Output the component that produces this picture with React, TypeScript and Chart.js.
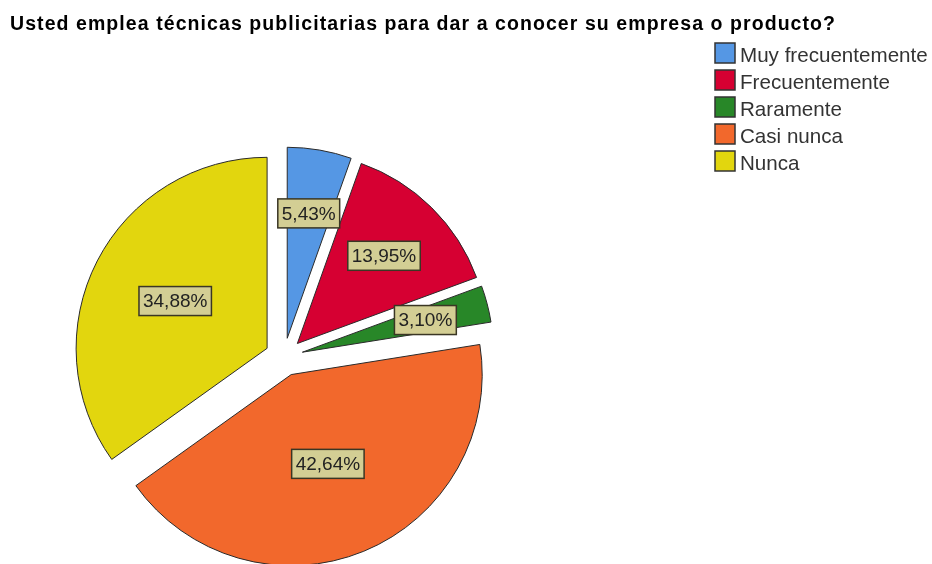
import React, { useEffect, useRef } from "react";
import { Chart, registerables, ArcElement } from "chart.js";

Chart.register(...registerables);

const TITLE = "Usted emplea técnicas publicitarias para dar a conocer su empresa o producto?";
const categories = ["Muy frecuentemente", "Frecuentemente", "Raramente", "Casi nunca", "Nunca"];
const percentages = [5.43, 13.95, 3.1, 42.64, 34.88];
const colors = ["#5597E4", "#D60032", "#288728", "#F2682C", "#E2D60E"];

const EXPLODE = 19;
const FONT = '"Liberation Sans", Arial, sans-serif';

const explodePlugin = {
  id: "explodeSlices",
  beforeDatasetsDraw(chart: any) {
    const meta = chart.getDatasetMeta(0);
    meta.data.forEach((el: any) => {
      if (el.__exploded) return;
      el.__exploded = true;
      el.draw = function (ctx: CanvasRenderingContext2D, area: any) {
        const mid = (this.startAngle + this.endAngle) / 2;
        ctx.save();
        ctx.translate(Math.cos(mid) * EXPLODE, Math.sin(mid) * EXPLODE);
        ArcElement.prototype.draw.call(this, ctx, area);
        ctx.restore();
      };
    });
  },
};

const labelPlugin = {
  id: "sliceLabels",
  afterDatasetsDraw(chart: any) {
    const ctx = chart.ctx as CanvasRenderingContext2D;
    const meta = chart.getDatasetMeta(0);
    const data = chart.data.datasets[0].data as number[];
    ctx.save();
    ctx.font = `19px ${FONT}`;
    ctx.textAlign = "center";
    ctx.textBaseline = "middle";
    meta.data.forEach((el: any, i: number) => {
      const { x, y, startAngle, endAngle, outerRadius } = el.getProps(
        ["x", "y", "startAngle", "endAngle", "outerRadius"],
        true
      );
      const mid = (startAngle + endAngle) / 2;
      const half = (endAngle - startAngle) / 2;
      const dist = ((2 / 3) * outerRadius * Math.sin(half)) / half + EXPLODE + (half > 1.2 ? 4 : 0);
      const cx = x + Math.cos(mid) * dist;
      const cy = y + Math.sin(mid) * dist;
      const text = data[i].toFixed(2).replace(".", ",") + "%";
      const w = ctx.measureText(text).width + 8;
      const h = 29;
      ctx.fillStyle = "#D3CE94";
      ctx.fillRect(cx - w / 2, cy - h / 2, w, h);
      ctx.strokeStyle = "#3A3624";
      ctx.lineWidth = 1.5;
      ctx.strokeRect(cx - w / 2, cy - h / 2, w, h);
      ctx.fillStyle = "#222";
      ctx.fillText(text, cx, cy + 1);
    });
    ctx.restore();
  },
};

const decorPlugin = {
  id: "decor",
  afterDraw(chart: any) {
    const ctx = chart.ctx as CanvasRenderingContext2D;
    ctx.save();
    ctx.fillStyle = "#000";
    ctx.font = `bold 19.5px ${FONT}`;
    ctx.textAlign = "left";
    ctx.textBaseline = "alphabetic";
    const natural = ctx.measureText(TITLE).width;
    const ls = Math.max(0, (825 - natural) / (TITLE.length - 1));
    (ctx as any).letterSpacing = `${ls}px`;
    ctx.fillText(TITLE, 10, 30);
    (ctx as any).letterSpacing = "0px";

    const labels = chart.data.labels as string[];
    const bg = chart.data.datasets[0].backgroundColor as string[];
    ctx.font = `20.6px ${FONT}`;
    labels.forEach((lab, i) => {
      const top = 43 + i * 27;
      ctx.fillStyle = bg[i];
      ctx.fillRect(715, top, 20, 20);
      ctx.strokeStyle = "#333";
      ctx.lineWidth = 1.5;
      ctx.strokeRect(715, top, 20, 20);
      ctx.fillStyle = "#333";
      ctx.fillText(lab, 740, top + 19);
    });
    ctx.restore();
  },
};

export default function App() {
  const ref = useRef<HTMLCanvasElement | null>(null);
  useEffect(() => {
    if (!ref.current) return;
    const chart = new Chart(ref.current, {
      type: "pie",
      data: {
        labels: categories,
        datasets: [
          {
            data: percentages,
            backgroundColor: colors,
            borderColor: "#2a2a2a",
            borderWidth: 1,
            clip: false as any,
          },
        ],
      },
      options: {
        responsive: false,
        animation: false,
        radius: 191,
        layout: { padding: { left: 0, right: 364, top: 150, bottom: 0 } },
        plugins: {
          legend: { display: false },
          title: { display: false },
          tooltip: { enabled: false },
        },
      } as any,
      plugins: [explodePlugin, labelPlugin, decorPlugin],
    });
    return () => chart.destroy();
  }, []);
  return (
    <div style={{ position: "absolute", left: 0, top: 0, width: 932, height: 564, background: "#fff" }}>
      <canvas ref={ref} width={932} height={564} style={{ display: "block" }} />
    </div>
  );
}
